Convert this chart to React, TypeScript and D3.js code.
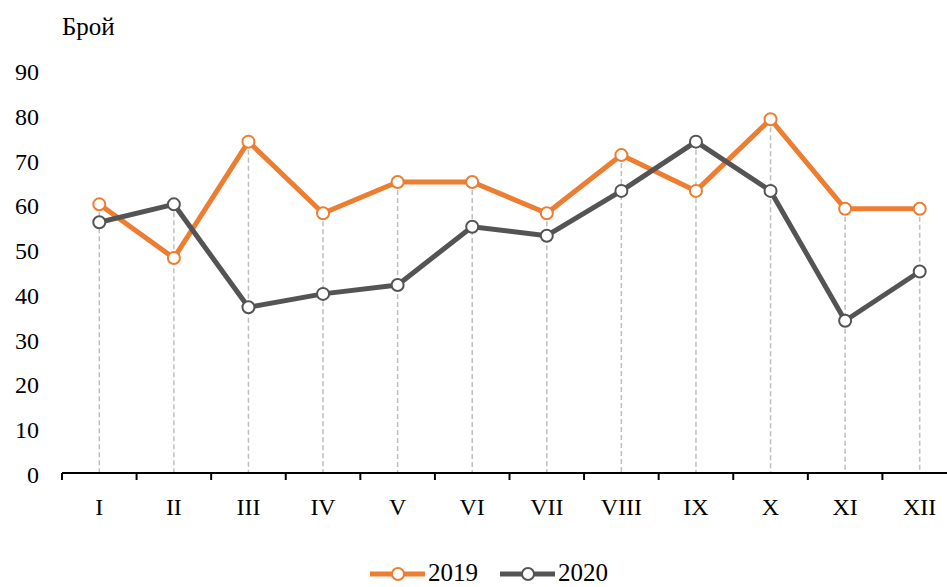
import React, { useEffect, useRef } from 'react'
import * as d3 from 'd3'

const WIDTH = 947
const HEIGHT = 587

const months = ['I', 'II', 'III', 'IV', 'V', 'VI', 'VII', 'VIII', 'IX', 'X', 'XI', 'XII']
const values2019 = [60, 48, 74, 58, 65, 65, 58, 71, 63, 79, 59, 59]
const values2020 = [56, 60, 37, 40, 42, 55, 53, 63, 74, 63, 34, 45]
const yTicks = [0, 10, 20, 30, 40, 50, 60, 70, 80, 90]

const series = [
  { name: '2019', values: values2019, colour: '#ED7D31' },
  { name: '2020', values: values2020, colour: '#545454' },
]

const FONT = '"Liberation Serif", "Times New Roman", serif'

export default function App() {
  const ref = useRef<SVGSVGElement>(null)

  useEffect(() => {
    const svg = d3.select(ref.current)
    svg.selectAll('*').remove()

    const xScale = d3.scaleBand().domain(months).range([62, 957])
    const yScale = d3.scaleLinear().domain([0, 90]).range([473, 70])
    const cx = (m: string) => (xScale(m) as number) + xScale.bandwidth() / 2

    // drop lines from highest point of each month
    svg.append('g')
      .selectAll('line')
      .data(months)
      .join('line')
        .attr('x1', cx)
        .attr('x2', cx)
        .attr('y1', (m, i) => yScale(Math.max(values2019[i], values2020[i])))
        .attr('y2', yScale(0))
        .attr('stroke', '#BFBFBF')
        .attr('stroke-width', 1.5)
        .attr('stroke-dasharray', '5,3')

    // x axis
    const xAxis = svg.append('g')
    xAxis.append('line')
      .attr('x1', 62).attr('x2', 957)
      .attr('y1', yScale(0)).attr('y2', yScale(0))
      .attr('stroke', '#000').attr('stroke-width', 2)
    xAxis.selectAll('line.tick')
      .data(months)
      .join('line')
        .attr('class', 'tick')
        .attr('x1', m => xScale(m) as number)
        .attr('x2', m => xScale(m) as number)
        .attr('y1', yScale(0))
        .attr('y2', yScale(0) + 7)
        .attr('stroke', '#000').attr('stroke-width', 2)
    xAxis.selectAll('text')
      .data(months)
      .join('text')
        .attr('x', cx)
        .attr('y', yScale(0) + 42)
        .attr('text-anchor', 'middle')
        .attr('font-family', FONT)
        .attr('font-size', 24)
        .text(m => m)

    // y labels
    svg.append('g')
      .selectAll('text')
      .data(yTicks)
      .join('text')
        .attr('x', 39)
        .attr('y', t => yScale(t) + 10)
        .attr('text-anchor', 'end')
        .attr('font-family', FONT)
        .attr('font-size', 24)
        .text(t => t)

    svg.append('text')
      .attr('x', 62)
      .attr('y', 35)
      .attr('font-family', FONT)
      .attr('font-size', 25)
      .text('Брой')

    const line = d3.line<number>()
      .x((d, i) => cx(months[i]))
      .y(d => yScale(d))

    series.forEach(s => {
      svg.append('path')
        .datum(s.values)
        .attr('d', line)
        .attr('fill', 'none')
        .attr('stroke', s.colour)
        .attr('stroke-width', 5)
        .attr('stroke-linejoin', 'round')
      svg.append('g')
        .selectAll('circle')
        .data(s.values)
        .join('circle')
          .attr('cx', (d, i) => cx(months[i]))
          .attr('cy', d => yScale(d))
          .attr('r', 6)
          .attr('fill', '#fff')
          .attr('stroke', s.colour)
          .attr('stroke-width', 2)
    })

    // legend
    const legendPos = [370, 500]
    series.forEach((s, i) => {
      const x0 = legendPos[i]
      const g = svg.append('g')
      g.append('line')
        .attr('x1', x0).attr('x2', x0 + 55)
        .attr('y1', 574).attr('y2', 574)
        .attr('stroke', s.colour).attr('stroke-width', 5)
      g.append('circle')
        .attr('cx', x0 + 28).attr('cy', 574).attr('r', 6)
        .attr('fill', '#fff').attr('stroke', s.colour).attr('stroke-width', 2)
      g.append('text')
        .attr('x', x0 + 58).attr('y', 581)
        .attr('font-family', FONT)
        .attr('font-size', 25)
        .text(s.name)
    })
  }, [])

  return (
    <svg
      ref={ref}
      width={WIDTH}
      height={HEIGHT}
      style={{ position: 'absolute', left: 0, top: 0, background: '#fff' }}
    />
  )
}
